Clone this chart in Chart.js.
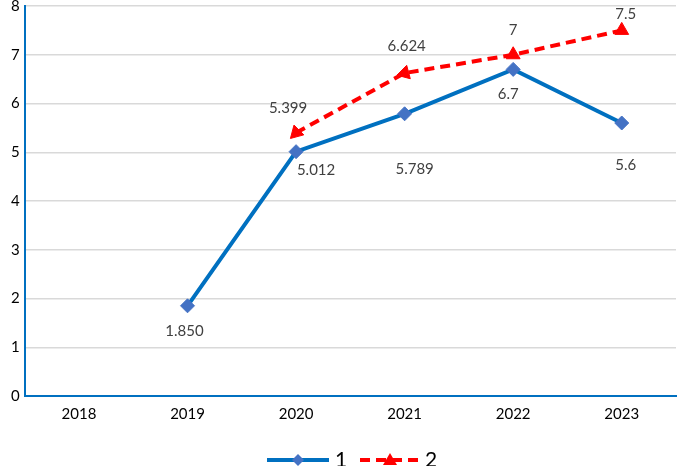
<!DOCTYPE html>
<html>
<head>
<meta charset="utf-8">
<script src="https://cdn.jsdelivr.net/npm/chart.js@4"></script>
<style>
  html, body { margin: 0; padding: 0; background: #fff; overflow: hidden; }
  #wrap { position: relative; top: -8px; width: 685px; height: 474px; }
</style>
</head>
<body>
<div id="wrap"><canvas id="myChart"></canvas></div>
<script>
const years = ['2018', '2019', '2020', '2021', '2022', '2023']
const series1 = [null, 1.850, 5.012, 5.789, 6.7, 5.6]
const series2 = [null, null, 5.399, 6.624, 7, 7.5]
const labels1 = ['', '1.850', '5.012', '5.789', '6.7', '5.6']
const labels2 = ['', '', '5.399', '6.624', '7', '7.5']
const yTicks = [0, 1, 2, 3, 4, 5, 6, 7, 8]

// label placement relative to each point (px)
const offsets1 = [null, [-3, 25], [20, 18], [10, 55], [-5, 25], [4, 42]]
const offsets2 = [null, null, [-8, -25], [2, -27], [0, -25], [4, -16]]

const blue = '#0070C0'
const diamond = '#4472C4'
const red = '#FF0000'
const font = 'Lato, "Open Sans", sans-serif'

const valueLabels = {
    id: 'valueLabels',
    afterDatasetsDraw(chart) {
        const ctx = chart.ctx
        ctx.save()
        ctx.font = '15px ' + font
        ctx.fillStyle = '#404040'
        ctx.textAlign = 'center'
        ctx.textBaseline = 'middle'
        const sets = [[labels1, offsets1], [labels2, offsets2]]
        sets.forEach(([texts, offs], i) => {
            const meta = chart.getDatasetMeta(i)
            meta.data.forEach((pt, j) => {
                if (!texts[j] || !offs[j]) return
                ctx.fillText(texts[j], pt.x + offs[j][0], pt.y + offs[j][1])
            })
        })
        ctx.restore()
    }
}

const lineLegend = {
    id: 'lineLegend',
    afterDraw(chart) {
        const ctx = chart.ctx
        const y = 468
        ctx.save()
        ctx.lineWidth = 4
        // series 1
        ctx.strokeStyle = blue
        ctx.beginPath(); ctx.moveTo(267, y); ctx.lineTo(329, y); ctx.stroke()
        ctx.fillStyle = diamond
        ctx.beginPath()
        ctx.moveTo(298, y - 6); ctx.lineTo(304, y); ctx.lineTo(298, y + 6); ctx.lineTo(292, y)
        ctx.closePath(); ctx.fill()
        // series 2
        ctx.strokeStyle = red
        ctx.setLineDash([10, 6])
        ctx.beginPath(); ctx.moveTo(360, y); ctx.lineTo(420, y); ctx.stroke()
        ctx.setLineDash([])
        ctx.fillStyle = red
        ctx.beginPath()
        ctx.moveTo(390, y - 7); ctx.lineTo(397, y + 5); ctx.lineTo(383, y + 5)
        ctx.closePath(); ctx.fill()
        ctx.fillStyle = '#000'
        ctx.font = '21px ' + font
        ctx.textBaseline = 'middle'
        ctx.fillText('1', 335, y)
        ctx.fillText('2', 425, y)
        ctx.restore()
    }
}

const ctx = document.getElementById('myChart').getContext('2d')
window.myChart = new Chart(ctx, {
    type: 'line',
    data: {
        labels: years,
        datasets: [
            {
                label: '1',
                data: series1,
                borderColor: blue,
                borderWidth: 4,
                pointStyle: 'rectRot',
                pointRadius: 7,
                pointBackgroundColor: diamond,
                pointBorderColor: diamond,
                pointBorderWidth: 1,
                spanGaps: false,
            },
            {
                label: '2',
                data: series2,
                borderColor: red,
                borderWidth: 4,
                borderDash: [10, 6],
                pointStyle: 'triangle',
                pointRadius: 8,
                pointRotation: [0, 0, -135, -105, 0, 0],
                pointBackgroundColor: red,
                pointBorderColor: red,
                pointBorderWidth: 1,
            }
        ]
    },
    options: {
        responsive: true,
        maintainAspectRatio: false,
        animation: false,
        layout: { padding: { top: 0, right: -4, bottom: 34, left: 6 } },
        plugins: {
            legend: { display: false },
            tooltip: { enabled: false },
        },
        scales: {
            x: {
                offset: true,
                grid: { display: false, drawTicks: false },
                border: { color: blue, width: 2 },
                ticks: { color: '#000', font: { family: font, size: 15 }, padding: 9 },
            },
            y: {
                min: 0,
                max: 8,
                afterBuildTicks: axis => { axis.ticks = yTicks.map(v => ({ value: v })) },
                grid: { color: '#d9d9d9', lineWidth: 1.5, drawTicks: false },
                border: { color: blue, width: 2 },
                ticks: { color: '#000', font: { family: font, size: 15 }, padding: 5 },
            }
        }
    },
    plugins: [valueLabels, lineLegend]
})
</script>
</body>
</html>
